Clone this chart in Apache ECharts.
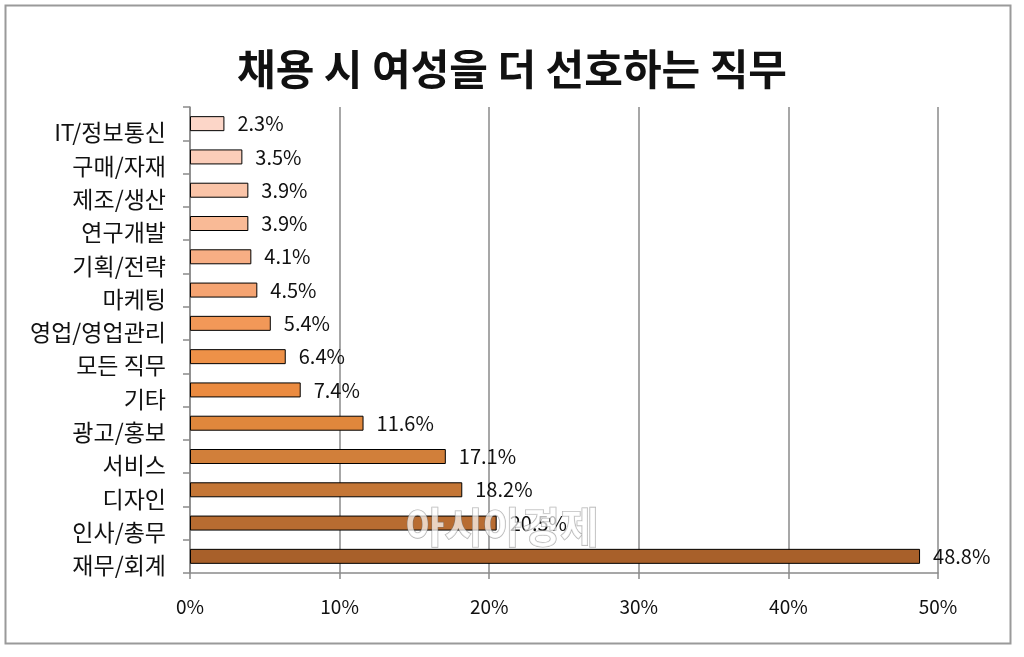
<!DOCTYPE html>
<html><head><meta charset="utf-8">
<script src="https://cdn.jsdelivr.net/npm/echarts@6/dist/echarts.min.js"></script>
<style>html,body{margin:0;padding:0;background:#fff}#c{width:1024px;height:657px}</style>
</head><body><div id="c"></div>
<script>
const titleText = '채용 시 여성을 더 선호하는 직무';
const categories = ['IT/정보통신','구매/자재','제조/생산','연구개발','기획/전략','마케팅','영업/영업관리','모든 직무','기타','광고/홍보','서비스','디자인','인사/총무','재무/회계'];
const values = [2.3,3.5,3.9,3.9,4.1,4.5,5.4,6.4,7.4,11.6,17.1,18.2,20.5,48.8];
const barColors = ['#fcd6c8','#fbcdb9','#fac4a8','#f9ba96','#f7ae84','#f5a472','#f29858','#ee9148','#eb8b40','#e0873c','#d17f3a','#c47636','#b86c31','#a8602a'];
const xTicks = [0,10,20,30,40,50];
const FONT = '"Noto Sans CJK KR", "Noto Sans", sans-serif';

const chart = echarts.init(document.getElementById('c'));
chart.setOption({
  backgroundColor: '#fff',
  animation: false,
  title: { text: titleText, left: 'center', top: 43, textStyle: { fontFamily: FONT, fontSize: 42, fontWeight: 'bold', color: '#111' } },
  grid: { left: 190, right: 86, top: 107, bottom: 84, containLabel: false },
  xAxis: {
    type: 'value', min: xTicks[0], max: xTicks[xTicks.length-1], interval: 10,
    axisLine: { show: true, lineStyle: { color: '#8a8a8a', width: 1.5 } },
    axisTick: { show: true, length: 6, lineStyle: { color: '#8a8a8a', width: 1.5 } },
    axisLabel: { formatter: v => v + '%', fontFamily: FONT, fontSize: 19, color: '#111', margin: 24 },
    splitLine: { show: true, lineStyle: { color: '#8a8a8a', width: 1.5 } }
  },
  yAxis: {
    type: 'category', data: categories, inverse: true,
    axisLine: { show: true, lineStyle: { color: '#8a8a8a', width: 1.5 } },
    axisTick: { show: true, length: 7, lineStyle: { color: '#8a8a8a', width: 1.5 } },
    axisLabel: { fontFamily: FONT, fontSize: 23, color: '#111', margin: 24, verticalAlign: 'top', lineHeight: 18 }
  },
  series: [{
    type: 'bar', barWidth: 15,
    data: values.map((v,i) => ({ value: v, itemStyle: { color: barColors[i], borderColor: echarts.color.modifyHSL(barColors[i], null, null, -0.1), borderWidth: 1 } })),
    label: { show: true, position: 'right', distance: 13, formatter: p => p.value.toFixed(1) + '%', fontFamily: FONT, fontSize: 20, color: '#111' }
  }],
  graphic: [
    { type: 'rect', left: 3, top: 3, shape: { width: 1005, height: 638 }, style: { fill: 'none', stroke: '#9a9a9a', lineWidth: 2 }, silent: true },
    { type: 'text', left: 405, top: 505, z: 100, style: { text: '아시아경제', fontFamily: FONT, fontSize: 42, fontWeight: 'bold', fill: 'rgba(255,255,255,0.7)', stroke: 'rgba(110,110,110,0.55)', lineWidth: 1.2 }, silent: true }
  ]
});
</script></body></html>
